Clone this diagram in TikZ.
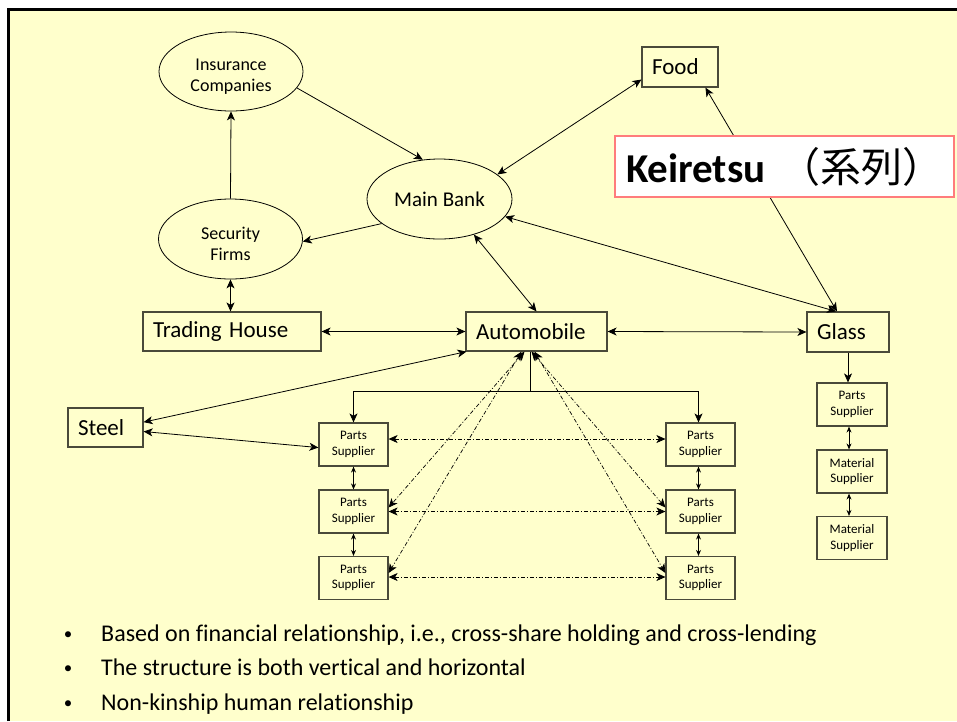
\documentclass[tikz,border=0pt]{standalone}
\usepackage{fontspec}
\setmainfont{Carlito}[Ligatures={NoCommon}]
\newfontfamily\cjk{Noto Sans CJK JP}
\usetikzlibrary{arrows.meta,shapes.geometric,calc}
\definecolor{paper}{HTML}{FFFFCC}
\definecolor{edge}{HTML}{4A4A3A}
\definecolor{keyred}{HTML}{FF7C7C}
\begin{document}
\begin{tikzpicture}[x=1pt,y=-1pt,
  >={Stealth[length=9pt,width=8pt,inset=2.5pt]},
  conn/.style={line width=0.8pt},
  tiny/.style={line width=0.8pt,>={Stealth[length=6pt,width=5pt,inset=2pt]}},
  dd/.style={line width=0.7pt,dash pattern=on 4pt off 2pt on 1pt off 2pt},
  oval/.style={ellipse,draw,line width=0.8pt,fill=paper,inner sep=0pt,align=center},
  bigbox/.style={draw=edge,line width=1.2pt,fill=paper,minimum height=39pt,
    inner xsep=10pt,inner ysep=0pt,align=left,font=\fontsize{23}{27}\selectfont},
  smallbox/.style={draw=edge,line width=1.2pt,fill=paper,minimum width=69pt,
    minimum height=43pt,inner sep=0pt,align=center,font=\fontsize{13}{15.5}\selectfont},
  keybox/.style={draw=keyred,line width=1.2pt,fill=white,minimum height=61pt,
    inner xsep=11pt,inner ysep=0pt,text width=317pt,align=left,font=\fontsize{41}{46}\selectfont},
  notetext/.style={font=\fontsize{24}{28}\selectfont,inner sep=0pt},
  notedot/.style={font=\fontsize{17}{20}\selectfont,inner sep=0pt}]
\useasboundingbox (0,0) rectangle (957,721);

% page and frame
\fill[white] (0,0) rectangle (957,721);
\fill[paper] (8.5,9.5) rectangle (957,721);
\draw[line width=3pt] (8.5,721) -- (8.5,9.5) -- (957,9.5);

% financial group
\node[oval,minimum width=144pt,minimum height=79pt,font=\fontsize{18}{21}\selectfont] (ins) at (231,71.5) {\rule{0pt}{22pt}Insurance\\Companies};
\node[oval,minimum width=144pt,minimum height=80pt,font=\fontsize{18}{21}\selectfont] (sec) at (230.5,239) {\rule{0pt}{22pt}Security\\Firms};
\node[oval,minimum width=145pt,minimum height=80pt,font=\fontsize{21}{25}\selectfont] (mb) at (439.5,199) {Main Bank};

% industrial firms
\node[bigbox,minimum height=40pt,text width=56pt] (food) at (680,67) {Food};
\node[bigbox,text width=158pt] (th) at (232,331.5) {Trading House};
\node[bigbox,text width=121pt] (auto) at (536.5,331.5) {Automobile};
\node[bigbox,minimum height=40pt,text width=62pt] (glass) at (848,332) {Glass};
\node[bigbox,text width=55pt] (steel) at (105.5,427.5) {Steel};

% supplier tiers
\node[smallbox] (l1) at (353.5,444.5) {Parts\\Supplier};
\node[smallbox] (l2) at (353.5,511.5) {Parts\\Supplier};
\node[smallbox] (l3) at (353.5,578) {Parts\\Supplier};
\node[smallbox] (r1) at (700.5,444.5) {Parts\\Supplier};
\node[smallbox] (r2) at (700.5,511.5) {Parts\\Supplier};
\node[smallbox] (r3) at (700.5,578) {Parts\\Supplier};
\node[smallbox,minimum width=70pt] (gp) at (852,404.5) {Parts\\Supplier};
\node[smallbox,minimum width=70pt] (gm1) at (852,471.5) {Material\\Supplier};
\node[smallbox,minimum width=70pt] (gm2) at (852,538) {Material\\Supplier};

% links around the main bank
\draw[conn,->] (sec.north) -- (ins.south);
\draw[conn,->] (ins.-14) -- (mb.113.6);
\draw[conn,<->] (mb.23.9) -- (food.198);
\draw[conn,->] (mb.203.5) -- (sec.-2);
\draw[conn,<->] (sec.south) -- (sec.south |- th.north);
\draw[conn,<->] (mb.-46.3) -- (auto.north);
\draw[conn,<->] (mb.-15.1) -- ([xshift=-12pt]glass.north);
\draw[conn,<->] (food.-39.8) -- ([xshift=-11pt]glass.north);

% links between the firms
\draw[conn,<->] (th.east) -- (auto.west);
\draw[conn,<->] (auto.east) -- (glass.west);
\draw[conn,<->] (steel.8.3) -- (auto.196.3);
\draw[conn,<->] (steel.-6.8) -- (l1.185.8);

% automobile supplier tree
\coordinate (fork) at ($(auto.south)+(-6,40)$);
\draw[conn] ([xshift=-6pt]auto.south) -- (fork);
\draw[conn,->] (fork) -| (l1.north);
\draw[conn,->] (fork) -| ([xshift=-2pt]r1.north);
\draw[tiny,<->] (l1.south) -- (l2.north);
\draw[tiny,<->] (l2.south) -- (l3.north);
\draw[tiny,<->] ([xshift=-2pt]r1.south) -- ([xshift=-2pt]r2.north);
\draw[tiny,<->] ([xshift=-2pt]r2.south) -- ([xshift=-2pt]r3.north);

% cross links between the tiers
\draw[dd,<->] ([yshift=5.5pt]l1.east) -- ([yshift=5.5pt]r1.west);
\draw[dd,<->] (l2.east) -- (r2.west);
\draw[dd,<->] ([yshift=1pt]l3.east) -- ([yshift=1pt]r3.west);
\draw[dd,<->] ([xshift=-12pt]auto.south) -- ([yshift=4pt]l2.east);
\draw[dd,<->] ([xshift=-15pt]auto.south) -- ([yshift=5pt]l3.east);
\draw[dd,<->] ([xshift=-5pt]auto.south) -- ([yshift=4pt]r2.west);
\draw[dd,<->] ([xshift=-2pt]auto.south) -- ([yshift=5pt]r3.west);

% glass supplier chain
\draw[conn,->] (glass.south) -- (glass.south |- gp.north);
\draw[tiny,<->] ([xshift=-3pt]gp.south) -- ([xshift=-3pt]gm1.north);
\draw[tiny,<->] ([xshift=-3pt]gm1.south) -- ([xshift=-3pt]gm2.north);

% title label
\node[keybox] (kei) at (784.5,166.5) {\mbox{\textbf{Keiretsu} {\cjk （系列）}}};

% notes
\node[notedot,anchor=base] (d1) at (68,639) {•};
\node[notetext,anchor=base west] (b1) at (101,641) {Based on financial relationship, i.e., cross-share holding and cross-lending};
\node[notedot,anchor=base] (d2) at (68,673) {•};
\node[notetext,anchor=base west] (b2) at (101,675) {The structure is both vertical and horizontal};
\node[notedot,anchor=base] (d3) at (68,708) {•};
\node[notetext,anchor=base west] (b3) at (101,710) {Non-kinship human relationship};
\end{tikzpicture}
\end{document}
